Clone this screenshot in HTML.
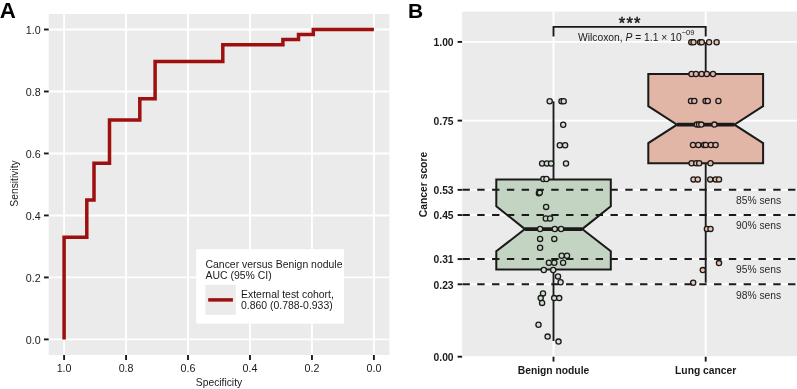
<!DOCTYPE html>
<html><head><meta charset="utf-8"><style>
html,body{margin:0;padding:0;background:#fff;width:797px;height:389px;overflow:hidden}
svg{will-change:transform} svg text{font-family:"Liberation Sans", sans-serif}
</style></head><body>
<svg width="797" height="389" viewBox="0 0 797 389" style="display:block">
<rect x="0" y="0" width="797" height="389" fill="#fff"/>
<rect x="48.7" y="14.0" width="340.70" height="341.00" fill="#EBEBEB"/>
<line x1="373.90" y1="14.0" x2="373.90" y2="355.0" stroke="#fff" stroke-width="1.9"/>
<line x1="48.7" y1="339.40" x2="389.4" y2="339.40" stroke="#fff" stroke-width="1.9"/>
<line x1="311.94" y1="14.0" x2="311.94" y2="355.0" stroke="#fff" stroke-width="1.9"/>
<line x1="48.7" y1="277.42" x2="389.4" y2="277.42" stroke="#fff" stroke-width="1.9"/>
<line x1="249.98" y1="14.0" x2="249.98" y2="355.0" stroke="#fff" stroke-width="1.9"/>
<line x1="48.7" y1="215.44" x2="389.4" y2="215.44" stroke="#fff" stroke-width="1.9"/>
<line x1="188.02" y1="14.0" x2="188.02" y2="355.0" stroke="#fff" stroke-width="1.9"/>
<line x1="48.7" y1="153.46" x2="389.4" y2="153.46" stroke="#fff" stroke-width="1.9"/>
<line x1="126.06" y1="14.0" x2="126.06" y2="355.0" stroke="#fff" stroke-width="1.9"/>
<line x1="48.7" y1="91.48" x2="389.4" y2="91.48" stroke="#fff" stroke-width="1.9"/>
<line x1="64.10" y1="14.0" x2="64.10" y2="355.0" stroke="#fff" stroke-width="1.9"/>
<line x1="48.7" y1="29.50" x2="389.4" y2="29.50" stroke="#fff" stroke-width="1.9"/>
<path d="M64.1,339.4 L64.1,237.2 L86.8,237.2 L86.8,200.0 L94.0,200.0 L94.0,163.3 L109.5,163.3 L109.5,120.0 L139.8,120.0 L139.8,98.7 L155.1,98.7 L155.1,61.5 L222.8,61.5 L222.8,44.8 L282.9,44.8 L282.9,39.4 L298.5,39.4 L298.5,34.4 L313.3,34.4 L313.3,29.5 L373.9,29.5" fill="none" stroke="#9E0F0F" stroke-width="3.5" stroke-linejoin="miter" stroke-linecap="butt"/>
<line x1="44" y1="339.40" x2="48.7" y2="339.40" stroke="#1a1a1a" stroke-width="1.9"/>
<line x1="373.90" y1="355.0" x2="373.90" y2="360.0" stroke="#1a1a1a" stroke-width="1.9"/>
<text x="40.6" y="343.70" text-anchor="end" font-size="10.7" fill="#1a1a1a">0.0</text>
<text x="373.90" y="371.6" text-anchor="middle" font-size="10.7" fill="#1a1a1a">0.0</text>
<line x1="44" y1="277.42" x2="48.7" y2="277.42" stroke="#1a1a1a" stroke-width="1.9"/>
<line x1="311.94" y1="355.0" x2="311.94" y2="360.0" stroke="#1a1a1a" stroke-width="1.9"/>
<text x="40.6" y="281.72" text-anchor="end" font-size="10.7" fill="#1a1a1a">0.2</text>
<text x="311.94" y="371.6" text-anchor="middle" font-size="10.7" fill="#1a1a1a">0.2</text>
<line x1="44" y1="215.44" x2="48.7" y2="215.44" stroke="#1a1a1a" stroke-width="1.9"/>
<line x1="249.98" y1="355.0" x2="249.98" y2="360.0" stroke="#1a1a1a" stroke-width="1.9"/>
<text x="40.6" y="219.74" text-anchor="end" font-size="10.7" fill="#1a1a1a">0.4</text>
<text x="249.98" y="371.6" text-anchor="middle" font-size="10.7" fill="#1a1a1a">0.4</text>
<line x1="44" y1="153.46" x2="48.7" y2="153.46" stroke="#1a1a1a" stroke-width="1.9"/>
<line x1="188.02" y1="355.0" x2="188.02" y2="360.0" stroke="#1a1a1a" stroke-width="1.9"/>
<text x="40.6" y="157.76" text-anchor="end" font-size="10.7" fill="#1a1a1a">0.6</text>
<text x="188.02" y="371.6" text-anchor="middle" font-size="10.7" fill="#1a1a1a">0.6</text>
<line x1="44" y1="91.48" x2="48.7" y2="91.48" stroke="#1a1a1a" stroke-width="1.9"/>
<line x1="126.06" y1="355.0" x2="126.06" y2="360.0" stroke="#1a1a1a" stroke-width="1.9"/>
<text x="40.6" y="95.78" text-anchor="end" font-size="10.7" fill="#1a1a1a">0.8</text>
<text x="126.06" y="371.6" text-anchor="middle" font-size="10.7" fill="#1a1a1a">0.8</text>
<line x1="44" y1="29.50" x2="48.7" y2="29.50" stroke="#1a1a1a" stroke-width="1.9"/>
<line x1="64.10" y1="355.0" x2="64.10" y2="360.0" stroke="#1a1a1a" stroke-width="1.9"/>
<text x="40.6" y="33.80" text-anchor="end" font-size="10.7" fill="#1a1a1a">1.0</text>
<text x="64.10" y="371.6" text-anchor="middle" font-size="10.7" fill="#1a1a1a">1.0</text>
<text x="219" y="386.1" text-anchor="middle" font-size="10.3" fill="#1a1a1a">Specificity</text>
<text transform="translate(17.6,183.5) rotate(-90)" text-anchor="middle" font-size="10.3" fill="#1a1a1a">Sensitivity</text>
<text x="-0.3" y="17.6" font-size="22.3" font-weight="bold" fill="#000">A</text>
<rect x="196.2" y="249.2" width="147.8" height="74.5" fill="#fff"/>
<text x="205.5" y="267.5" font-size="10.45" fill="#1a1a1a">Cancer versus Benign nodule</text>
<text x="205.5" y="278.7" font-size="10.45" fill="#1a1a1a">AUC (95% CI)</text>
<rect x="205.3" y="284.9" width="30.5" height="30" fill="#EBEBEB"/>
<line x1="208.2" y1="299.9" x2="232.9" y2="299.9" stroke="#9E0F0F" stroke-width="3.5"/>
<text x="241" y="297.9" font-size="10.45" fill="#1a1a1a">External test cohort,</text>
<text x="241" y="309.2" font-size="10.45" fill="#1a1a1a">0.860 (0.788-0.933)</text>
<rect x="462.1" y="11.6" width="334.90" height="344.60" fill="#EBEBEB"/>
<line x1="462.1" y1="284.30" x2="797.0" y2="284.30" stroke="#fff" stroke-width="1.9"/>
<line x1="462.1" y1="259.11" x2="797.0" y2="259.11" stroke="#fff" stroke-width="1.9"/>
<line x1="462.1" y1="215.04" x2="797.0" y2="215.04" stroke="#fff" stroke-width="1.9"/>
<line x1="462.1" y1="189.86" x2="797.0" y2="189.86" stroke="#fff" stroke-width="1.9"/>
<line x1="462.1" y1="120.60" x2="797.0" y2="120.60" stroke="#fff" stroke-width="1.9"/>
<line x1="462.1" y1="41.90" x2="797.0" y2="41.90" stroke="#fff" stroke-width="1.9"/>
<line x1="553.5" y1="11.6" x2="553.5" y2="356.2" stroke="#fff" stroke-width="1.9"/>
<line x1="705.7" y1="11.6" x2="705.7" y2="356.2" stroke="#fff" stroke-width="1.9"/>
<line x1="553.5" y1="101.3" x2="553.5" y2="179.3" stroke="#1a1a1a" stroke-width="1.9"/>
<line x1="553.5" y1="269.5" x2="553.5" y2="341.0" stroke="#1a1a1a" stroke-width="1.9"/>
<line x1="705.7" y1="42.2" x2="705.7" y2="73.8" stroke="#1a1a1a" stroke-width="1.9"/>
<line x1="705.7" y1="163.2" x2="705.7" y2="282.7" stroke="#1a1a1a" stroke-width="1.9"/>
<path d="M496.30,179.40 L496.30,206.20 L524.92,229.10 L496.30,251.20 L496.30,269.50 L610.80,269.50 L610.80,251.20 L582.17,229.10 L610.80,206.20 L610.80,179.40 Z" fill="#C4D4C3" stroke="#1a1a1a" stroke-width="2" stroke-linejoin="miter"/>
<line x1="524.92" y1="229.1" x2="582.17" y2="229.1" stroke="#1a1a1a" stroke-width="3.7"/>
<path d="M648.30,73.90 L648.30,106.10 L677.00,124.70 L648.30,143.10 L648.30,163.20 L763.10,163.20 L763.10,143.10 L734.40,124.70 L763.10,106.10 L763.10,73.90 Z" fill="#E1B6A6" stroke="#1a1a1a" stroke-width="2" stroke-linejoin="miter"/>
<line x1="677.00" y1="124.7" x2="734.40" y2="124.7" stroke="#1a1a1a" stroke-width="3.7"/>
<circle cx="549.7" cy="101.3" r="2.6" fill="#CFE0CD" stroke="#1a1a1a" stroke-width="1.3"/>
<circle cx="561.5" cy="101.3" r="2.6" fill="#CFE0CD" stroke="#1a1a1a" stroke-width="1.3"/>
<circle cx="563.7" cy="101.3" r="2.6" fill="#CFE0CD" stroke="#1a1a1a" stroke-width="1.3"/>
<circle cx="563.2" cy="124.7" r="2.6" fill="#CFE0CD" stroke="#1a1a1a" stroke-width="1.3"/>
<circle cx="559.8" cy="145.3" r="2.6" fill="#CFE0CD" stroke="#1a1a1a" stroke-width="1.3"/>
<circle cx="565.1" cy="145.3" r="2.6" fill="#CFE0CD" stroke="#1a1a1a" stroke-width="1.3"/>
<circle cx="542.1" cy="163.5" r="2.6" fill="#CFE0CD" stroke="#1a1a1a" stroke-width="1.3"/>
<circle cx="546.9" cy="163.5" r="2.6" fill="#CFE0CD" stroke="#1a1a1a" stroke-width="1.3"/>
<circle cx="551.1" cy="163.5" r="2.6" fill="#CFE0CD" stroke="#1a1a1a" stroke-width="1.3"/>
<circle cx="566" cy="163.5" r="2.6" fill="#CFE0CD" stroke="#1a1a1a" stroke-width="1.3"/>
<circle cx="543.4" cy="179" r="2.6" fill="#CFE0CD" stroke="#1a1a1a" stroke-width="1.3"/>
<circle cx="546.4" cy="179" r="2.6" fill="#CFE0CD" stroke="#1a1a1a" stroke-width="1.3"/>
<circle cx="538.9" cy="193.3" r="2.6" fill="#C4D4C3" stroke="#1a1a1a" stroke-width="1.3"/>
<circle cx="539.8" cy="192.6" r="2.6" fill="#C4D4C3" stroke="#1a1a1a" stroke-width="1.3"/>
<circle cx="546.1" cy="206.9" r="2.6" fill="#C4D4C3" stroke="#1a1a1a" stroke-width="1.3"/>
<circle cx="545.8" cy="218.5" r="2.6" fill="#C4D4C3" stroke="#1a1a1a" stroke-width="1.3"/>
<circle cx="550.1" cy="218.5" r="2.6" fill="#C4D4C3" stroke="#1a1a1a" stroke-width="1.3"/>
<circle cx="540.1" cy="229" r="2.6" fill="#C4D4C3" stroke="#1a1a1a" stroke-width="1.3"/>
<circle cx="554.8" cy="229" r="2.6" fill="#C4D4C3" stroke="#1a1a1a" stroke-width="1.3"/>
<circle cx="561.1" cy="229" r="2.6" fill="#C4D4C3" stroke="#1a1a1a" stroke-width="1.3"/>
<circle cx="540.1" cy="238.9" r="2.6" fill="#C4D4C3" stroke="#1a1a1a" stroke-width="1.3"/>
<circle cx="554.3" cy="238.9" r="2.6" fill="#C4D4C3" stroke="#1a1a1a" stroke-width="1.3"/>
<circle cx="540.1" cy="247.7" r="2.6" fill="#C4D4C3" stroke="#1a1a1a" stroke-width="1.3"/>
<circle cx="561.7" cy="255.8" r="2.6" fill="#C4D4C3" stroke="#1a1a1a" stroke-width="1.3"/>
<circle cx="567" cy="255.8" r="2.6" fill="#C4D4C3" stroke="#1a1a1a" stroke-width="1.3"/>
<circle cx="548.9" cy="262.8" r="2.6" fill="#C4D4C3" stroke="#1a1a1a" stroke-width="1.3"/>
<circle cx="554.3" cy="262.8" r="2.6" fill="#C4D4C3" stroke="#1a1a1a" stroke-width="1.3"/>
<circle cx="563.1" cy="262.8" r="2.6" fill="#C4D4C3" stroke="#1a1a1a" stroke-width="1.3"/>
<circle cx="543.8" cy="270" r="2.6" fill="#CFE0CD" stroke="#1a1a1a" stroke-width="1.3"/>
<circle cx="553.2" cy="270" r="2.6" fill="#CFE0CD" stroke="#1a1a1a" stroke-width="1.3"/>
<circle cx="558" cy="276.4" r="2.6" fill="#CFE0CD" stroke="#1a1a1a" stroke-width="1.3"/>
<circle cx="560.6" cy="282.3" r="2.6" fill="#CFE0CD" stroke="#1a1a1a" stroke-width="1.3"/>
<circle cx="543" cy="293.4" r="2.6" fill="#CFE0CD" stroke="#1a1a1a" stroke-width="1.3"/>
<circle cx="540.7" cy="298.1" r="2.6" fill="#CFE0CD" stroke="#1a1a1a" stroke-width="1.3"/>
<circle cx="554.2" cy="298.1" r="2.6" fill="#CFE0CD" stroke="#1a1a1a" stroke-width="1.3"/>
<circle cx="559.2" cy="298.1" r="2.6" fill="#CFE0CD" stroke="#1a1a1a" stroke-width="1.3"/>
<circle cx="542.1" cy="302.9" r="2.6" fill="#CFE0CD" stroke="#1a1a1a" stroke-width="1.3"/>
<circle cx="538.5" cy="324.7" r="2.6" fill="#CFE0CD" stroke="#1a1a1a" stroke-width="1.3"/>
<circle cx="547.6" cy="336.6" r="2.6" fill="#CFE0CD" stroke="#1a1a1a" stroke-width="1.3"/>
<circle cx="558.5" cy="341.6" r="2.6" fill="#CFE0CD" stroke="#1a1a1a" stroke-width="1.3"/>
<circle cx="691.3" cy="42.3" r="2.6" fill="#EEC3B2" stroke="#1a1a1a" stroke-width="1.3"/>
<circle cx="693.5" cy="42.3" r="2.6" fill="#EEC3B2" stroke="#1a1a1a" stroke-width="1.3"/>
<circle cx="700.1" cy="42.3" r="2.6" fill="#EEC3B2" stroke="#1a1a1a" stroke-width="1.3"/>
<circle cx="701.8" cy="42.3" r="2.6" fill="#EEC3B2" stroke="#1a1a1a" stroke-width="1.3"/>
<circle cx="709.1" cy="42.3" r="2.6" fill="#EEC3B2" stroke="#1a1a1a" stroke-width="1.3"/>
<circle cx="716.6" cy="42.3" r="2.6" fill="#EEC3B2" stroke="#1a1a1a" stroke-width="1.3"/>
<circle cx="691.5" cy="74.0" r="2.6" fill="#E1B6A6" stroke="#1a1a1a" stroke-width="1.3"/>
<circle cx="696.0" cy="74.0" r="2.6" fill="#E1B6A6" stroke="#1a1a1a" stroke-width="1.3"/>
<circle cx="701.6" cy="74.0" r="2.6" fill="#E1B6A6" stroke="#1a1a1a" stroke-width="1.3"/>
<circle cx="706.8" cy="74.0" r="2.6" fill="#E1B6A6" stroke="#1a1a1a" stroke-width="1.3"/>
<circle cx="713.0" cy="74.0" r="2.6" fill="#E1B6A6" stroke="#1a1a1a" stroke-width="1.3"/>
<circle cx="691.0" cy="101.0" r="2.6" fill="#E1B6A6" stroke="#1a1a1a" stroke-width="1.3"/>
<circle cx="694.3" cy="101.0" r="2.6" fill="#E1B6A6" stroke="#1a1a1a" stroke-width="1.3"/>
<circle cx="705.6" cy="101.0" r="2.6" fill="#E1B6A6" stroke="#1a1a1a" stroke-width="1.3"/>
<circle cx="707.8" cy="101.0" r="2.6" fill="#E1B6A6" stroke="#1a1a1a" stroke-width="1.3"/>
<circle cx="718.4" cy="101.0" r="2.6" fill="#E1B6A6" stroke="#1a1a1a" stroke-width="1.3"/>
<circle cx="696.8" cy="124.6" r="2.6" fill="#E1B6A6" stroke="#1a1a1a" stroke-width="1.3"/>
<circle cx="699.0" cy="124.6" r="2.6" fill="#E1B6A6" stroke="#1a1a1a" stroke-width="1.3"/>
<circle cx="701.3" cy="124.6" r="2.6" fill="#E1B6A6" stroke="#1a1a1a" stroke-width="1.3"/>
<circle cx="714.4" cy="124.6" r="2.6" fill="#E1B6A6" stroke="#1a1a1a" stroke-width="1.3"/>
<circle cx="693.0" cy="145.0" r="2.6" fill="#E1B6A6" stroke="#1a1a1a" stroke-width="1.3"/>
<circle cx="698.3" cy="145.0" r="2.6" fill="#E1B6A6" stroke="#1a1a1a" stroke-width="1.3"/>
<circle cx="704.0" cy="145.0" r="2.6" fill="#E1B6A6" stroke="#1a1a1a" stroke-width="1.3"/>
<circle cx="705.8" cy="145.0" r="2.6" fill="#E1B6A6" stroke="#1a1a1a" stroke-width="1.3"/>
<circle cx="710.9" cy="145.0" r="2.6" fill="#E1B6A6" stroke="#1a1a1a" stroke-width="1.3"/>
<circle cx="715.6" cy="145.0" r="2.6" fill="#E1B6A6" stroke="#1a1a1a" stroke-width="1.3"/>
<circle cx="691.6" cy="163.2" r="2.6" fill="#E1B6A6" stroke="#1a1a1a" stroke-width="1.3"/>
<circle cx="696.3" cy="163.2" r="2.6" fill="#E1B6A6" stroke="#1a1a1a" stroke-width="1.3"/>
<circle cx="699.2" cy="163.2" r="2.6" fill="#E1B6A6" stroke="#1a1a1a" stroke-width="1.3"/>
<circle cx="710.5" cy="163.2" r="2.6" fill="#E1B6A6" stroke="#1a1a1a" stroke-width="1.3"/>
<circle cx="693.5" cy="179.4" r="2.6" fill="#EEC3B2" stroke="#1a1a1a" stroke-width="1.3"/>
<circle cx="697.8" cy="179.4" r="2.6" fill="#EEC3B2" stroke="#1a1a1a" stroke-width="1.3"/>
<circle cx="710.2" cy="179.4" r="2.6" fill="#EEC3B2" stroke="#1a1a1a" stroke-width="1.3"/>
<circle cx="715.7" cy="179.4" r="2.6" fill="#EEC3B2" stroke="#1a1a1a" stroke-width="1.3"/>
<circle cx="719.0" cy="179.4" r="2.6" fill="#EEC3B2" stroke="#1a1a1a" stroke-width="1.3"/>
<circle cx="706.9" cy="228.9" r="2.6" fill="#EEC3B2" stroke="#1a1a1a" stroke-width="1.3"/>
<circle cx="710.5" cy="228.9" r="2.6" fill="#EEC3B2" stroke="#1a1a1a" stroke-width="1.3"/>
<circle cx="719" cy="263.1" r="2.6" fill="#EEC3B2" stroke="#1a1a1a" stroke-width="1.3"/>
<circle cx="702.8" cy="270.1" r="2.6" fill="#EEC3B2" stroke="#1a1a1a" stroke-width="1.3"/>
<circle cx="693.2" cy="282.7" r="2.6" fill="#EEC3B2" stroke="#1a1a1a" stroke-width="1.3"/>
<line x1="462.1" y1="189.86" x2="797.0" y2="189.86" stroke="#1a1a1a" stroke-width="2" stroke-dasharray="7.4 7.4" stroke-dashoffset="-0.35"/>
<line x1="462.1" y1="215.04" x2="797.0" y2="215.04" stroke="#1a1a1a" stroke-width="2" stroke-dasharray="7.4 7.4" stroke-dashoffset="-0.35"/>
<line x1="462.1" y1="259.11" x2="797.0" y2="259.11" stroke="#1a1a1a" stroke-width="2" stroke-dasharray="7.4 7.4" stroke-dashoffset="-0.35"/>
<line x1="462.1" y1="284.30" x2="797.0" y2="284.30" stroke="#1a1a1a" stroke-width="2" stroke-dasharray="7.4 7.4" stroke-dashoffset="-0.35"/>
<text x="736" y="204.06" font-size="10.3" fill="#2a2a2a">85% sens</text>
<text x="736" y="229.24" font-size="10.3" fill="#2a2a2a">90% sens</text>
<text x="736" y="273.31" font-size="10.3" fill="#2a2a2a">95% sens</text>
<text x="736" y="298.50" font-size="10.3" fill="#2a2a2a">98% sens</text>
<line x1="457.6" y1="356.70" x2="462.1" y2="356.70" stroke="#1a1a1a" stroke-width="1.9"/>
<text x="453.6" y="360.90" text-anchor="end" font-size="10.3" font-weight="bold" fill="#1a1a1a">0.00</text>
<line x1="457.6" y1="284.30" x2="462.1" y2="284.30" stroke="#1a1a1a" stroke-width="1.9"/>
<text x="453.6" y="288.50" text-anchor="end" font-size="10.3" font-weight="bold" fill="#1a1a1a">0.23</text>
<line x1="457.6" y1="259.11" x2="462.1" y2="259.11" stroke="#1a1a1a" stroke-width="1.9"/>
<text x="453.6" y="263.31" text-anchor="end" font-size="10.3" font-weight="bold" fill="#1a1a1a">0.31</text>
<line x1="457.6" y1="215.04" x2="462.1" y2="215.04" stroke="#1a1a1a" stroke-width="1.9"/>
<text x="453.6" y="219.24" text-anchor="end" font-size="10.3" font-weight="bold" fill="#1a1a1a">0.45</text>
<line x1="457.6" y1="189.86" x2="462.1" y2="189.86" stroke="#1a1a1a" stroke-width="1.9"/>
<text x="453.6" y="194.06" text-anchor="end" font-size="10.3" font-weight="bold" fill="#1a1a1a">0.53</text>
<line x1="457.6" y1="120.60" x2="462.1" y2="120.60" stroke="#1a1a1a" stroke-width="1.9"/>
<text x="453.6" y="124.80" text-anchor="end" font-size="10.3" font-weight="bold" fill="#1a1a1a">0.75</text>
<line x1="457.6" y1="41.90" x2="462.1" y2="41.90" stroke="#1a1a1a" stroke-width="1.9"/>
<text x="453.6" y="46.10" text-anchor="end" font-size="10.3" font-weight="bold" fill="#1a1a1a">1.00</text>
<line x1="553.5" y1="356.7" x2="553.5" y2="361.6" stroke="#1a1a1a" stroke-width="1.9"/>
<text x="553.5" y="374.4" text-anchor="middle" font-size="10.3" font-weight="bold" fill="#1a1a1a">Benign nodule</text>
<line x1="705.7" y1="356.7" x2="705.7" y2="361.6" stroke="#1a1a1a" stroke-width="1.9"/>
<text x="705.7" y="374.4" text-anchor="middle" font-size="10.3" font-weight="bold" fill="#1a1a1a">Lung cancer</text>
<text transform="translate(426.6,184.5) rotate(-90)" text-anchor="middle" font-size="10.3" font-weight="bold" fill="#1a1a1a">Cancer score</text>
<text x="408" y="17.8" font-size="21" font-weight="bold" fill="#000">B</text>
<path d="M553.5,36.6 L553.5,26.9 L705.7,26.9 L705.7,36.6" fill="none" stroke="#1a1a1a" stroke-width="1.9"/>
<text x="630.2" y="29" text-anchor="middle" font-size="16.5" fill="#1a1a1a" stroke="#1a1a1a" stroke-width="0.5" letter-spacing="1.15">***</text>
<text x="578" y="40.7" font-size="10.3" fill="#1a1a1a">Wilcoxon, <tspan font-style="italic">P</tspan> = 1.1 × 10<tspan font-size="7.5" dy="-6">−09</tspan></text>
</svg>
</body></html>
